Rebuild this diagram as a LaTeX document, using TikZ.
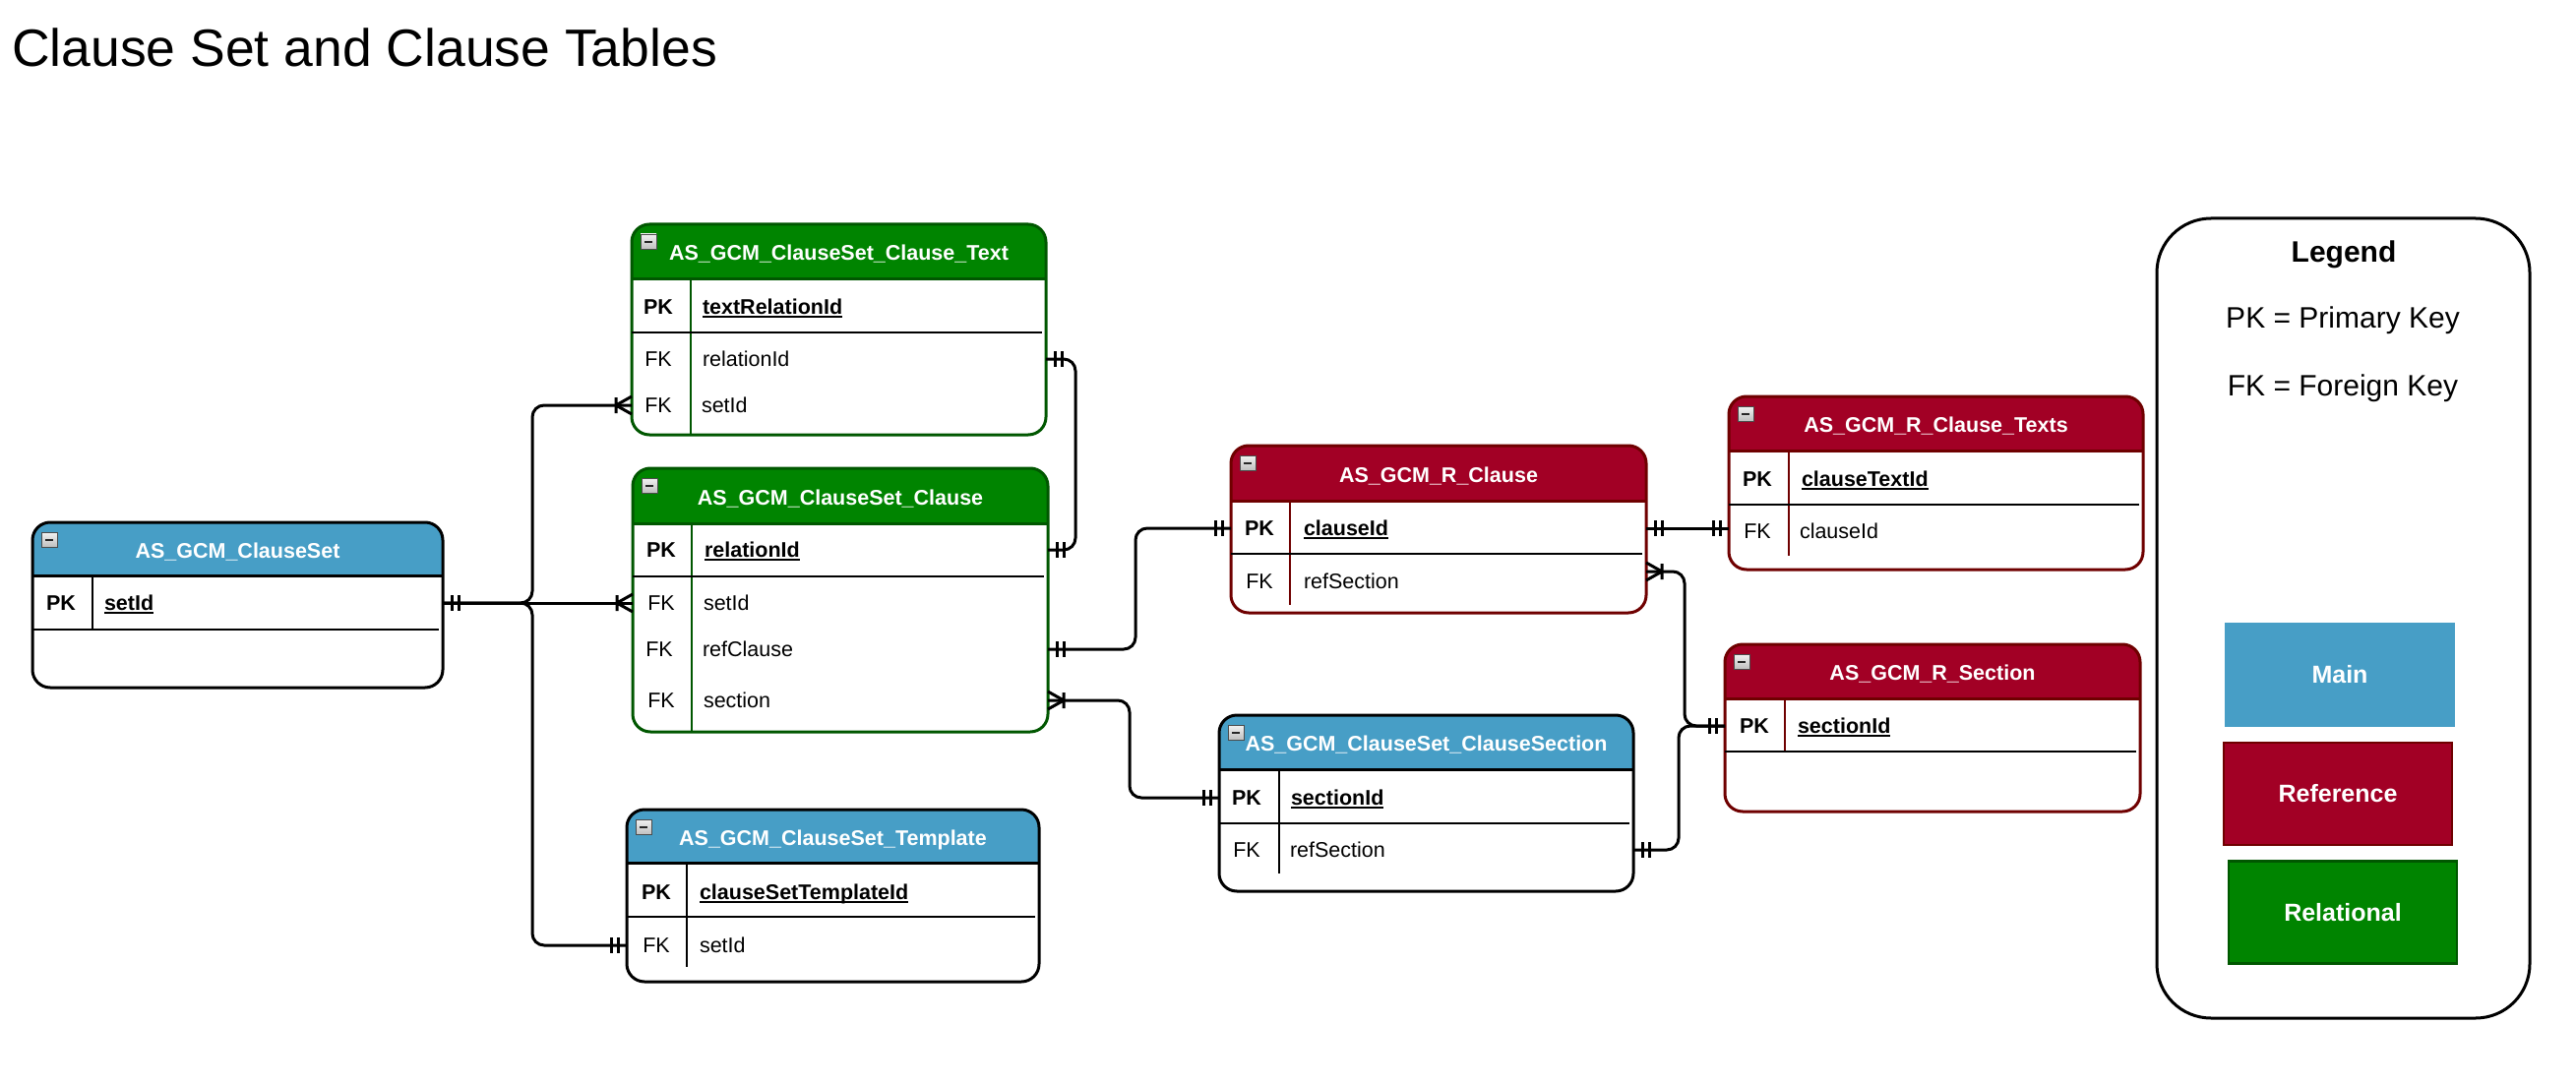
\documentclass[tikz,border=0pt]{standalone}
\usepackage{fontspec}
\setmainfont{Liberation Sans}
\usetikzlibrary{calc}
\definecolor{mainblue}{RGB}{71,158,198}
\definecolor{refred}{RGB}{162,0,37}
\definecolor{refdark}{RGB}{111,0,0}
\definecolor{relgreen}{RGB}{0,132,0}
\definecolor{reldark}{RGB}{0,87,0}
\newcommand\ulx[1]{\setbox0\hbox{#1}\rlap{\rule[-3.5pt]{\wd0}{1.8pt}}\box0}
\tikzset{
  tblbody/.style={inner sep=0pt, outer sep=0pt, fill=white, rounded corners=18pt},
  tbltext/.style={inner sep=0pt, outer sep=0pt, font=\fontsize{21.5}{25}\selectfont},
  hdrtext/.style={inner sep=0pt, outer sep=0pt, font=\fontsize{21.5}{25}\selectfont\bfseries, text=white},
  rowport/.style={inner sep=0pt, outer sep=0pt, minimum height=1pt},
  conn/.style={line width=3pt, black, rounded corners=12pt},
  ermark/.style={line width=3pt, black},
  legtext/.style={inner sep=0pt, outer sep=0pt, font=\fontsize{30}{34}\selectfont},
  legbox/.style={inner sep=0pt, outer sep=0pt, minimum width=232pt, minimum height=104pt, line width=2.5pt, text=white, font=\fontsize{25}{30}\selectfont\bfseries},
}
% #1 name #2 left #3 top #4 right #5 bottom #6 header bottom #7 fill #8 stroke #9 title
\newcommand\ertable[9]{%
  \def\ertl{#2}\def\ertr{#4}\def\erstroke{#8}%
  \pgfmathsetmacro\ertw{#4-#2}\pgfmathsetmacro\erth{#5-#3}%
  \node[tblbody, minimum width=\ertw pt, minimum height=\erth pt] (#1) at ({(#2+#4)/2},{(#3+#5)/2}) {};
  \begin{scope}
    \clip (#2-5,#3-5) rectangle (#4+5,#6);
    \fill[#7, rounded corners=18pt] (#1.north west) rectangle (#1.south east);
  \end{scope}
  \draw[#8, line width=3pt] (#2,#6) -- (#4,#6);
  \draw[#8, line width=3pt, rounded corners=18pt] (#1.north west) rectangle (#1.south east);
  \node[hdrtext, anchor=base] (#1-title) at ({(#2+#4)/2},{(#3+#6)/2+9}) {#9};
  \draw[gray!60!black, line width=0.8pt, top color=gray!10, bottom color=gray!50] (#2+9,#3+10) rectangle ++(16,15);
  \draw[black!85, line width=2pt] (#2+13,#3+17.5) -- ++(8,0);
}
% #1 divider x, #2 divider top, #3 divider bottom, #4 separator y
\newcommand\erlines[4]{%
  \draw[\erstroke, line width=2.5pt] (#1,#2) -- (#1,#3);
  \draw[black, line width=1.5pt] (\ertl,#4) -- (\ertr-4,#4);
}
% #1 name #2 y #3 key x #4 key #5 field x #6 field
\newcommand\errow[6]{%
  \pgfmathsetmacro\errw{\ertr-\ertl}%
  \node[rowport, minimum width=\errw pt] (#1) at ({(\ertl+\ertr)/2},#2) {};
  \node[tbltext, anchor=base] (#1-key) at (#3,#2+7.5) {#4};
  \node[tbltext, anchor=base west] (#1-name) at (#5,#2+7.5) {#6};
}
\newcommand\mandone[2]{%
  \draw[ermark] ($(#1)+(#2*9,-8)$) -- ($(#1)+(#2*9,8)$)
                ($(#1)+(#2*16,-8)$) -- ($(#1)+(#2*16,8)$);}
\newcommand\onemany[2]{%
  \draw[ermark] ($(#1)+(0,-9)$) -- ($(#1)+(#2*16,0)$) -- ($(#1)+(0,9)$)
                ($(#1)+(#2*16,-8)$) -- ($(#1)+(#2*16,8)$);}
\begin{document}
\begin{tikzpicture}[x=1pt,y=-1pt]
\useasboundingbox[fill=white] (0,0) rectangle (2618,1102);

\node[inner sep=0pt, anchor=base west, font=\fontsize{53.5}{60}\selectfont] (title) at (12,68) {Clause Set and Clause Tables};

% AS_GCM_ClauseSet
\ertable{cs}{33}{531}{450}{699}{585}{mainblue}{black}{AS\_GCM\_ClauseSet}
\erlines{94}{585}{640}{640}
\errow{cs-setId}{613}{62}{\textbf{PK}}{106}{\textbf{\ulx{setId}}}

% AS_GCM_ClauseSet_Clause_Text
\ertable{txt}{642}{228}{1063}{442}{283}{relgreen}{reldark}{AS\_GCM\_ClauseSet\_Clause\_Text}
\erlines{702}{283}{441}{338}
\errow{txt-textRelationId}{312}{669}{\textbf{PK}}{714}{\textbf{\ulx{textRelationId}}}
\errow{txt-relationId}{365}{669}{FK}{714}{relationId}
\errow{txt-setId}{412}{669}{FK}{713}{setId}

% AS_GCM_ClauseSet_Clause
\ertable{cl}{643}{476}{1065}{744}{532}{relgreen}{reldark}{AS\_GCM\_ClauseSet\_Clause}
\erlines{703}{532}{744}{586}
\errow{cl-relationId}{559}{672}{\textbf{PK}}{716}{\textbf{\ulx{relationId}}}
\errow{cl-setId}{613}{672}{FK}{715}{setId}
\errow{cl-refClause}{660}{670}{FK}{714}{refClause}
\errow{cl-section}{712}{672}{FK}{715}{section}

% AS_GCM_ClauseSet_Template
\ertable{tpl}{637}{823}{1056}{998}{877}{mainblue}{black}{AS\_GCM\_ClauseSet\_Template}
\erlines{698}{877}{983}{932}
\errow{tpl-clauseSetTemplateId}{907}{667}{\textbf{PK}}{711}{\textbf{\ulx{clauseSetTemplateId}}}
\errow{tpl-setId}{961}{667}{FK}{711}{setId}

% AS_GCM_R_Clause
\ertable{rc}{1251}{453}{1673}{623}{509}{refred}{refdark}{AS\_GCM\_R\_Clause}
\erlines{1311}{509}{615}{563}
\errow{rc-clauseId}{537}{1280}{\textbf{PK}}{1325}{\textbf{\ulx{clauseId}}}
\errow{rc-refSection}{591}{1280}{FK}{1325}{refSection}

% AS_GCM_ClauseSet_ClauseSection
\ertable{sec}{1239}{727}{1660}{906}{782}{mainblue}{black}{AS\_GCM\_ClauseSet\_ClauseSection}
\erlines{1300}{782}{888}{837}
\errow{sec-sectionId}{811}{1267}{\textbf{PK}}{1312}{\textbf{\ulx{sectionId}}}
\errow{sec-refSection}{864}{1267}{FK}{1311}{refSection}

% AS_GCM_R_Clause_Texts
\ertable{rct}{1757}{403}{2178}{579}{458}{refred}{refdark}{AS\_GCM\_R\_Clause\_Texts}
\erlines{1818}{458}{565}{513}
\errow{rct-clauseTextId}{487}{1786}{\textbf{PK}}{1831}{\textbf{\ulx{clauseTextId}}}
\errow{rct-clauseId}{540}{1786}{FK}{1829}{clauseId}

% AS_GCM_R_Section
\ertable{rs}{1753}{655}{2175}{825}{710}{refred}{refdark}{AS\_GCM\_R\_Section}
\erlines{1814}{710}{764}{764}
\errow{rs-sectionId}{738}{1783}{\textbf{PK}}{1827}{\textbf{\ulx{sectionId}}}

% connectors
\draw[conn] (cs-setId.east) -- ++(91,0) |- (txt-setId.west);
\draw[conn] (cs-setId.east) -- (cl-setId.west);
\draw[conn] (cs-setId.east) -- ++(91,0) |- (tpl-setId.west);
\mandone{cs-setId.east}{1}
\onemany{txt-setId.west}{-1}
\onemany{cl-setId.west}{-1}
\mandone{tpl-setId.west}{-1}

\draw[conn] (txt-relationId.east) -- ++(30,0) |- (cl-relationId.east);
\mandone{txt-relationId.east}{1}
\mandone{cl-relationId.east}{1}

\draw[conn] (cl-refClause.east) -- ++(89,0) |- (rc-clauseId.west);
\mandone{cl-refClause.east}{1}
\mandone{rc-clauseId.west}{-1}

\draw[conn] (cl-section.east) -- ++(83,0) |- (sec-sectionId.west);
\onemany{cl-section.east}{1}
\mandone{sec-sectionId.west}{-1}

\coordinate (rct-port) at (rc-clauseId.east -| rct-clauseId.west);
\draw[conn] (rc-clauseId.east) -- (rct-port);
\mandone{rc-clauseId.east}{1}
\mandone{rct-port}{-1}

\coordinate (rc-port) at ($(rc-refSection.east)+(0,-10)$);
\draw[conn] (rc-port) -- ++(39,0) |- (rs-sectionId.west);
\onemany{rc-port}{1}
\mandone{rs-sectionId.west}{-1}

\draw[conn] (sec-refSection.east) -- ++(46,0) |- (rs-sectionId.west);
\mandone{sec-refSection.east}{1}

% legend
\node[draw, line width=3pt, rounded corners=55pt, inner sep=0pt, outer sep=0pt, minimum width=379pt, minimum height=813pt] (legend) at (2381.5,628.5) {};
\node[legtext, font=\fontsize{30}{34}\selectfont\bfseries, anchor=base] (legend-title) at (2382,266) {Legend};
\node[legtext, anchor=base] (legend-pk) at (2381,333) {PK = Primary Key};
\node[legtext, anchor=base] (legend-fk) at (2381,402) {FK = Foreign Key};
\node[legbox, fill=mainblue, draw=mainblue] (legend-main) at (2378,686) {Main};
\node[legbox, fill=refred, draw=refdark] (legend-ref) at (2376,807) {Reference};
\node[legbox, fill=relgreen, draw=reldark] (legend-rel) at (2381,927.5) {Relational};
\end{tikzpicture}
\end{document}
